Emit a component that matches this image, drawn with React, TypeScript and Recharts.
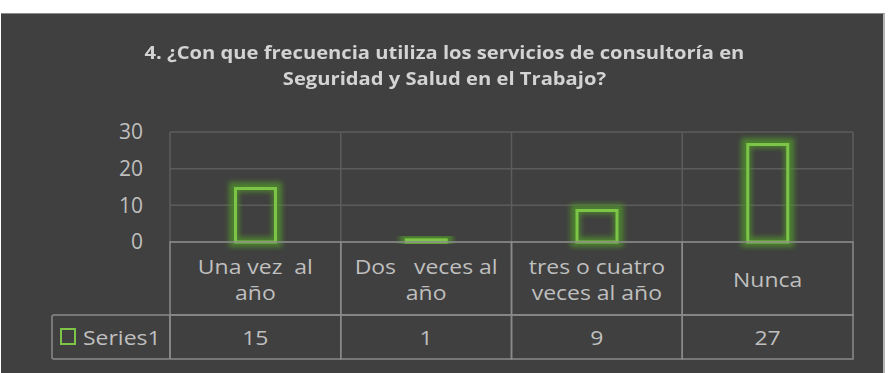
import React from 'react';
import { BarChart, Bar, XAxis, YAxis, CartesianGrid } from 'recharts';

const categories = ['Una vez  al año', 'Dos   veces al año', 'tres o cuatro veces al año', 'Nunca'];
const categoryLines = [['Una vez  al', 'año'], ['Dos   veces al', 'año'], ['tres o cuatro', 'veces al año'], ['Nunca']];
const values = [15, 1, 9, 27];
const seriesName = 'Series1';
const yTicks = [0, 10, 20, 30];
const title1 = '4. ¿Con que frecuencia utiliza los servicios de consultoría en';
const title2 = 'Seguridad y Salud en el Trabajo?';

const data = categories.map((name, i) => ({ name, value: values[i], lines: categoryLines[i] }));

const W = 891;
const H = 373;
const MARGIN = { top: 132, right: 38, left: 110, bottom: 14 };
const YAXIS_W = 60;
const XAXIS_H = 117;
const PLOT_W = W - MARGIN.left - YAXIS_W - MARGIN.right;
const PLOT_BOTTOM = H - MARGIN.bottom - XAXIS_H;
const CELL_W = PLOT_W / categories.length;
const HEAD_H = 73;
const ROW_H = 44;
const TEXT = '#bfbfbf';
const TABLE_LINE = '#8a8a8a';
const GREEN = '#7cc546';
const FONT = '"Open Sans", Lato, sans-serif';
const LEGEND_LEFT = 52;
const SX = 1.12;
const FS = 20.5;

const Txt = ({ x, y, anchor = 'middle', children }: any) => (
  <text
    transform={`translate(${x},${y}) scale(${SX},1)`}
    x={0}
    y={0}
    textAnchor={anchor}
    dominantBaseline="central"
    fill={TEXT}
    fontSize={FS}
    fontFamily={FONT}
    style={{ whiteSpace: 'pre' }}
  >
    {children}
  </text>
);

const TableTick = (props: any) => {
  const { x, index } = props;
  const item = data[index];
  const left = x - CELL_W / 2;
  const top = PLOT_BOTTOM;
  const lines: string[] = item.lines;
  const lh = 26;
  const startY = top + HEAD_H / 2 - ((lines.length - 1) * lh) / 2;
  return (
    <g>
      <rect x={left} y={top} width={CELL_W} height={HEAD_H} fill="none" stroke={TABLE_LINE} strokeWidth={1.5} />
      <rect x={left} y={top + HEAD_H} width={CELL_W} height={ROW_H} fill="none" stroke={TABLE_LINE} strokeWidth={1.5} />
      {lines.map((ln, i) => (
        <Txt key={i} x={x} y={startY + i * lh}>{ln}</Txt>
      ))}
      <Txt x={x} y={top + HEAD_H + ROW_H / 2}>{item.value}</Txt>
      {index === 0 && (
        <g>
          <rect x={LEGEND_LEFT} y={top + HEAD_H} width={left - LEGEND_LEFT} height={ROW_H} fill="none" stroke={TABLE_LINE} strokeWidth={1.5} rx={2} />
          <rect x={61} y={top + HEAD_H + 14} width={14} height={15} fill="none" stroke={GREEN} strokeWidth={2} />
          <Txt x={83} y={top + HEAD_H + ROW_H / 2} anchor="start">{seriesName}</Txt>
        </g>
      )}
    </g>
  );
};

const GlowBar = (props: any) => {
  const { x, y, width, height, index } = props;
  const id = `glow${index}`;
  return (
    <g>
      <defs>
        <filter id={id} x="-50%" y="-50%" width="200%" height="200%">
          <feGaussianBlur stdDeviation={2.4} />
        </filter>
      </defs>
      <rect x={x} y={y} width={width} height={height} fill="none" stroke="#4f8f2c" strokeOpacity={0.8} strokeWidth={10} filter={`url(#${id})`} />
      <rect x={x + 1.5} y={y + 1.5} width={Math.max(width - 3, 0)} height={Math.max(height - 1.5, 0)} fill="none" stroke={GREEN} strokeWidth={3} />
    </g>
  );
};

export default function App() {
  return (
    <div style={{ position: 'absolute', left: 0, top: 0, width: W, height: H, background: '#ffffff', overflow: 'hidden' }}>
      <div style={{ position: 'absolute', left: 1, top: 13, width: 882, height: 360, background: '#404040', borderTop: '1px solid #8a8a8a', borderRight: '2px solid #b5b5b5' }} />
      <div
        style={{
          position: 'absolute', left: 0, top: 39, width: W - 2, textAlign: 'center', color: '#d3d3d3',
          fontFamily: FONT, fontWeight: 700, fontSize: 18, lineHeight: '26px',
          transform: `scaleX(${SX})`, transformOrigin: '445px 0',
        }}
      >
        <div>{title1}</div>
        <div>{title2}</div>
      </div>
      <div style={{ position: 'absolute', left: 0, top: 0 }}>
        <BarChart width={W} height={H} data={data} margin={MARGIN}>
          <CartesianGrid
            stroke="#5c5c5c"
            strokeWidth={1.5}
            horizontal
            vertical
            verticalCoordinatesGenerator={({ offset }: any) =>
              categories.map((_, i) => offset.left + (i * offset.width) / categories.length).concat([offset.left + offset.width])
            }
          />
          <YAxis
            domain={[0, 30]}
            ticks={yTicks}
            width={YAXIS_W}
            axisLine={false}
            tickLine={false}
            tickSize={0}
            tickMargin={27}
            tick={{ fill: TEXT, fontSize: 21, fontFamily: FONT }}
            interval={0}
          />
          <XAxis
            dataKey="name"
            height={XAXIS_H}
            axisLine={false}
            tickLine={false}
            tickSize={0}
            tickMargin={0}
            interval={0}
            tick={<TableTick />}
          />
          <Bar dataKey="value" barSize={43} isAnimationActive={false} shape={<GlowBar />} />
        </BarChart>
      </div>
    </div>
  );
}
